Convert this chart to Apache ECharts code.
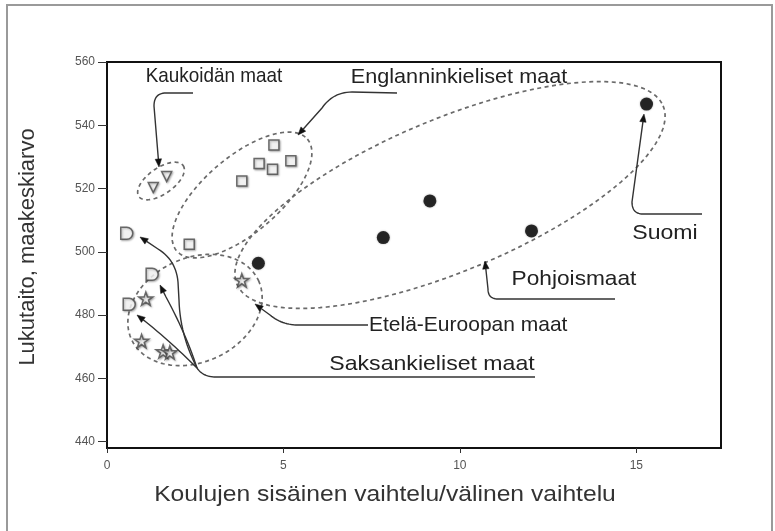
<!DOCTYPE html>
<html>
<head>
<meta charset="utf-8">
<script src="https://cdn.jsdelivr.net/npm/echarts@6/dist/echarts.min.js"></script>
<style>
  html, body { margin: 0; padding: 0; background: #fff; }
  #chart { width: 775px; height: 531px; }
</style>
</head>
<body>
<div id="chart"></div>
<script>
// Country groups: [within/between school variance ratio, country mean score]
const farEast     = [[1.31, 520.3], [1.69, 523.8]];
const english     = [[4.73, 533.8], [4.31, 527.9], [4.69, 526.1], [5.21, 528.8], [3.82, 522.4], [2.33, 502.4]];
const german      = [[0.56, 505.9], [1.28, 492.9], [0.63, 483.4]];
const southEurope = [[1.10, 485.2], [0.98, 471.8], [1.59, 468.5], [1.78, 468.2], [3.82, 491.0]];
const nordic      = [[4.29, 496.4], [7.83, 504.5], [9.15, 516.1], [12.03, 506.6]];
const finland     = [[15.29, 546.7]];

const xTicks = [0, 5, 10, 15];
const yTicks = [440, 460, 480, 500, 520, 540, 560];

const xTitle = 'Koulujen sisäinen vaihtelu/välinen vaihtelu';
const yTitle = 'Lukutaito, maakeskiarvo';

const FONT = '"Liberation Sans", Arial, Helvetica, sans-serif';

// marker shapes
const STAR = 'path://M50,0 L61.8,35.4 L100,35.4 L69.1,57.3 L80.9,95.1 L50,72.4 L19.1,95.1 L30.9,57.3 L0,35.4 L38.2,35.4 Z';
const DSHAPE = 'path://M0,0 L50,0 A50,50 0 0 1 50,100 L0,100 Z';
const TRI_DOWN = 'path://M0,0 L100,0 L50,100 Z';

const openStyle = {
  color: '#fff', borderColor: '#4a4a4a', borderWidth: 1.5,
  shadowBlur: 2, shadowColor: 'rgba(0,0,0,0.35)', shadowOffsetX: 1, shadowOffsetY: 1
};
const solidStyle = { color: '#000', shadowBlur: 2, shadowColor: 'rgba(0,0,0,0.4)' };

function scatter(name, data, symbol, size, style) {
  return {
    name, type: 'scatter', data, symbol, symbolSize: size, symbolKeepAspect: true,
    itemStyle: style, z: 5, silent: true
  };
}

const option = {
  animation: false,
  backgroundColor: '#fff',
  textStyle: { fontFamily: FONT },
  grid: {
    left: 107, right: 54, top: 62, bottom: 83,
    show: true, borderColor: '#111', borderWidth: 2, backgroundColor: '#fff'
  },
  xAxis: {
    type: 'value', min: 0, max: 17.4,
    axisLine: { show: true, lineStyle: { color: '#111', width: 2 } },
    axisTick: { show: true, length: 5, customValues: xTicks, lineStyle: { color: '#333', width: 1 } },
    axisLabel: { customValues: xTicks, margin: 12, fontSize: 12, color: '#555', fontFamily: FONT },
    splitLine: { show: false }
  },
  yAxis: {
    type: 'value', min: 438, max: 560,
    axisLine: { show: true, lineStyle: { color: '#111', width: 2 } },
    axisTick: { show: true, length: 9, customValues: yTicks, lineStyle: { color: '#333', width: 1 } },
    axisLabel: { customValues: yTicks, margin: 12, fontSize: 12, color: '#555', fontFamily: FONT },
    splitLine: { show: false }
  },
  series: [
    scatter('Kaukoidän maat', farEast, TRI_DOWN, [10, 10], openStyle),
    scatter('Englanninkieliset maat', english, 'rect', [10, 10], openStyle),
    scatter('Saksankieliset maat', german, DSHAPE, [12, 12], openStyle),
    scatter('Etelä-Euroopan maat', southEurope, STAR, [14, 14], openStyle),
    scatter('Pohjoismaat', nordic, 'circle', 13, solidStyle),
    scatter('Suomi', finland, 'circle', 13, solidStyle)
  ]
};

const chart = echarts.init(document.getElementById('chart'), null, { renderer: 'canvas' });
chart.setOption(option);

// ---- callout drawing helpers (pixel space) ----
function ellipse(cx, cy, a, b, deg) {
  const t = deg * Math.PI / 180, c = Math.cos(t), s = Math.sin(t);
  const pts = [];
  for (let i = 0; i < 160; i++) {
    const k = i / 160 * Math.PI * 2;
    const u = a * Math.cos(k), v = b * Math.sin(k);
    pts.push([cx + u * c - v * s, cy + u * s + v * c]);
  }
  return {
    type: 'polygon', z: 3, silent: true,
    shape: { points: pts },
    style: { fill: null, stroke: '#6a6a6a', lineWidth: 1.7, lineDash: [4, 3.5] }
  };
}

function trace(cmds) {
  const pts = [];
  let cur = null;
  for (const c of cmds) {
    if (c[0] === 'M' || c[0] === 'L') {
      cur = [c[1], c[2]];
      pts.push(cur);
    } else if (c[0] === 'Q') {
      const p0 = cur, p1 = [c[3], c[4]];
      for (let i = 1; i <= 14; i++) {
        const t = i / 14, u = 1 - t;
        pts.push([u * u * p0[0] + 2 * u * t * c[1] + t * t * p1[0],
                  u * u * p0[1] + 2 * u * t * c[2] + t * t * p1[1]]);
      }
      cur = p1;
    }
  }
  return pts;
}

function line(cmds) {
  return {
    type: 'polyline', z: 4, silent: true,
    shape: { points: trace(cmds) },
    style: { fill: null, stroke: '#333', lineWidth: 1.4 }
  };
}

function arrow(cmds) {
  const pts = trace(cmds);
  const tip = pts[pts.length - 1], prev = pts[pts.length - 2];
  const dx = tip[0] - prev[0], dy = tip[1] - prev[1], d = Math.hypot(dx, dy);
  const ux = dx / d, uy = dy / d, len = 8, half = 3.2;
  const bx = tip[0] - ux * len, by = tip[1] - uy * len;
  const body = pts.slice(0, -1).concat([[bx, by]]);
  return [
    { type: 'polyline', z: 4, silent: true, shape: { points: body },
      style: { fill: null, stroke: '#333', lineWidth: 1.4 } },
    { type: 'polygon', z: 4, silent: true,
      shape: { points: [tip, [bx - uy * half, by + ux * half], [bx + uy * half, by - ux * half]] },
      style: { fill: '#111', stroke: '#111', lineWidth: 0.5 } }
  ];
}

// group name: one type size, horizontal stretch per label
function label(text, x, y, sx, align) {
  return {
    type: 'text', z: 6, silent: true, x, y, scaleX: sx,
    style: { text, fill: '#222', font: '21px ' + FONT, align: align || 'center', verticalAlign: 'middle' }
  };
}

const graphics = [
  // outer frame
  { type: 'rect', z: 0, silent: true, shape: { x: 7, y: 5, width: 765, height: 560 },
    style: { fill: null, stroke: '#9a9a9a', lineWidth: 2 } },

  // group outlines
  ellipse(161, 181, 27, 13, -35),
  ellipse(242, 195, 86, 38, -40.5),
  ellipse(450, 195, 231, 76, -22.7),
  ellipse(195, 310, 70, 52, -25),

  // callouts
  ...arrow([['M', 193, 93], ['L', 166, 93], ['Q', 154, 93, 154, 106], ['L', 159, 167]]),
  ...arrow([['M', 397, 93], ['L', 352, 92], ['Q', 333, 92, 322, 108], ['L', 298, 135]]),
  ...arrow([['M', 702, 214], ['L', 643, 214], ['Q', 632, 214, 632, 202], ['L', 644, 114]]),
  ...arrow([['M', 615, 299], ['L', 498, 299], ['Q', 488, 299, 488, 289], ['L', 485, 261]]),
  ...arrow([['M', 368, 325], ['L', 298, 325], ['Q', 282, 325, 270, 315], ['L', 255, 304]]),
  line([['M', 535, 377], ['L', 216, 377], ['Q', 203, 377, 197, 368]]),
  ...arrow([['M', 197, 368], ['Q', 180, 335, 179, 300], ['L', 178, 282], ['Q', 176, 260, 158, 249], ['L', 140, 237]]),
  ...arrow([['M', 197, 368], ['Q', 186, 334, 166, 297], ['L', 160, 285]]),
  ...arrow([['M', 197, 368], ['Q', 172, 343, 146, 322], ['L', 137, 315]]),

  // group names
  label('Kaukoidän maat', 214, 76, 0.9),
  label('Englanninkieliset maat', 459, 77, 1.03),
  label('Suomi', 665, 233, 1.1),
  label('Pohjoismaat', 574, 279, 1.08),
  label('Etelä-Euroopan maat', 369, 325, 1.0, 'left'),
  label('Saksankieliset maat', 432, 364, 1.1),

  // axis titles
  { type: 'text', z: 6, silent: true, x: 385, y: 495, scaleX: 1.12,
    style: { text: xTitle, fill: '#333', font: '22px ' + FONT, align: 'center', verticalAlign: 'middle' } },
  { type: 'text', z: 6, silent: true, x: 28, y: 247, rotation: Math.PI / 2,
    style: { text: yTitle, fill: '#333', font: '22px ' + FONT, align: 'center', verticalAlign: 'middle' } }
];

chart.setOption({ graphic: { elements: graphics } });
</script>
</body>
</html>
